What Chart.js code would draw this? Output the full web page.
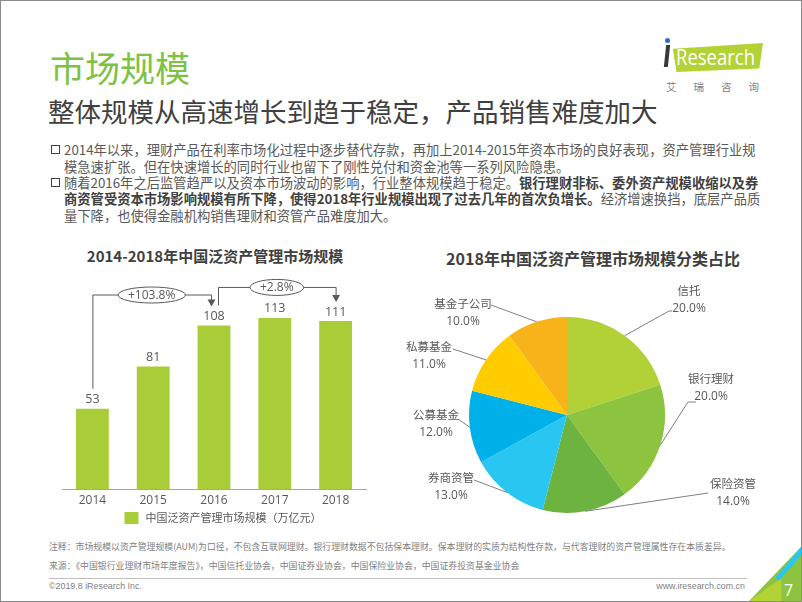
<!DOCTYPE html>
<html>
<head>
<meta charset="utf-8">
<script src="https://cdn.jsdelivr.net/npm/chart.js@4"></script>
<style>
  html, body { margin: 0; padding: 0; background: #fff; }
  #page {
    position: relative; width: 800px; height: 600px; border: 1px solid #8c8c8c;
    overflow: hidden; font-family: "Noto Sans CJK SC", sans-serif; color: #595959;
  }
  .abs { position: absolute; white-space: nowrap; }
  #title { left: 49px; top: 44px; font-size: 35px; color: #7dc243; line-height: 44px; }
  #subtitle { left: 47px; top: 93px; font-size: 26.5px; color: #404040; line-height: 34px; }
  .line { position: absolute; left: 63px; font-size: 13.3px; line-height: 17px; white-space: nowrap; }
  .bullet { position: absolute; left: 50px; width: 7px; height: 7px; border: 1.4px solid #404040; }
  b { color: #404040; }
  .ctitle { position: absolute; font-size: 15px; font-weight: bold; color: #404040; transform: translateX(-50%); white-space: nowrap; }
  .note { position: absolute; left: 48px; font-size: 8.9px; color: #7f7f7f; white-space: nowrap; }
  #logo { position: absolute; left: 669px; top: 42px; width: 93px; height: 29px; background: #b3d235;
    clip-path: polygon(3% 20%, 100% 0%, 96% 88%, 7% 100%); }
</style>
</head>
<body>
<div id="page">
  <div id="title" class="abs">市场规模</div>
  <div id="subtitle" class="abs">整体规模从高速增长到趋于稳定，产品销售难度加大</div>

  <div id="logo"></div>
  <div class="abs" style="left:664px;top:37px;width:5px;height:5px;border-radius:50%;background:#2f6fb7;"></div>
  <div class="abs" style="left:664px;top:44px;width:4px;height:22px;background:#3a3a3a;transform:skewX(-6deg);"></div>
  <div class="abs" style="left:675px;top:40px;font-family:'Open Sans',sans-serif;font-size:22px;color:#fff;line-height:30px;transform:scaleX(0.84);transform-origin:0 0;">Research</div>
  <div class="abs" style="left:665px;top:78px;font-size:10.5px;color:#7f7f7f;letter-spacing:17px;">艾瑞咨询</div>

  <div class="bullet" style="top:144px;"></div>
  <div class="line" style="top:140px;">2014年以来，理财产品在利率市场化过程中逐步替代存款，再加上2014-2015年资本市场的良好表现，资产管理行业规</div>
  <div class="line" style="top:157px;">模急速扩张。但在快速增长的同时行业也留下了刚性兑付和资金池等一系列风险隐患。</div>
  <div class="bullet" style="top:177px;"></div>
  <div class="line" style="top:173px;">随着2016年之后监管趋严以及资本市场波动的影响，行业整体规模趋于稳定。<b>银行理财非标、委外资产规模收缩以及券</b></div>
  <div class="line" style="top:189px;"><b>商资管受资本市场影响规模有所下降，使得2018年行业规模出现了过去几年的首次负增长。</b>经济增速换挡，底层产品质</div>
  <div class="line" style="top:206px;">量下降，也使得金融机构销售理财和资管产品难度加大。</div>

  <div class="ctitle" style="left:214px;top:244px;">2014-2018年中国泛资产管理市场规模</div>
  <div class="ctitle" style="left:592px;top:245px;font-size:16px;">2018年中国泛资产管理市场规模分类占比</div>

  <canvas id="barChart" width="340" height="268" style="position:absolute;left:40px;top:270px;"></canvas>
  <canvas id="pieChart" width="410" height="260" style="position:absolute;left:390px;top:270px;"></canvas>

  <div class="note" style="top:539px;">注释：市场规模以资产管理规模(AUM)为口径，不包含互联网理财。银行理财数据不包括保本理财。保本理财的实质为结构性存款，与代客理财的资产管理属性存在本质差异。</div>
  <div class="note" style="top:558px;">来源：《中国银行业理财市场年度报告》，中国信托业协会，中国证券业协会，中国保险业协会，中国证券投资基金业协会</div>
  <div class="abs" style="left:48px;top:577px;width:698px;height:1px;background:#bfbfbf;"></div>
  <div class="note" style="top:580px;font-family:'Liberation Sans',sans-serif;">©2019.8 iResearch Inc.</div>
  <div class="note" style="top:580px;left:auto;right:56px;font-family:'Liberation Sans',sans-serif;">www.iresearch.com.cn</div>

  <div class="abs" style="left:748px;top:540px;width:52px;height:60px;background:#8cc43f;clip-path:polygon(0% 100%, 100% 10%, 100% 100%);"></div>
  <div class="abs" style="left:748px;top:540px;width:52px;height:60px;background:#b3d235;clip-path:polygon(0% 100%, 62% 62%, 62% 100%);"></div>
  <div class="abs" style="left:748px;top:540px;width:52px;height:60px;background:#29c6f1;clip-path:polygon(50% 62%, 100% 10%, 100% 24%, 58% 66%);"></div>
  <div class="abs" style="left:783px;top:578px;font-family:'Open Sans',sans-serif;font-size:16px;color:#fff;">7</div>
</div>

<script>
// Bar chart data
let years = ['2014', '2015', '2016', '2017', '2018'];
let marketSize = [53, 81, 108, 113, 111];
let seriesName = '中国泛资产管理市场规模（万亿元）';
let growthLabels = ['+103.8%', '+2.8%'];
let growthFrom = [0, 2];
let growthTo = [2, 4];

// Pie chart data
let pieNames = ['信托', '银行理财', '保险资管', '券商资管', '公募基金', '私募基金', '基金子公司'];
let pieShares = [20.0, 20.0, 14.0, 13.0, 12.0, 11.0, 10.0];
let pieColors = ['#b1d136', '#8cc43f', '#6db33f', '#29c6f1', '#00b0e8', '#ffcc00', '#f8b21a'];

Chart.defaults.font.family = '"Open Sans", "Noto Sans CJK SC", sans-serif';
Chart.defaults.color = '#595959';

// value labels, growth brackets and the legend under the axis
let barExtras = {
  id: 'barExtras',
  afterDatasetsDraw(chart) {
    let ctx = chart.ctx;
    let x = chart.scales.x;
    let y = chart.scales.y;
    let area = chart.chartArea;
    ctx.save();
    ctx.fillStyle = '#595959';
    ctx.font = '12.5px "Open Sans", sans-serif';
    ctx.textAlign = 'center';
    ctx.textBaseline = 'middle';
    for (let i = 0; i < marketSize.length; i++) {
      ctx.fillText(marketSize[i], x.getPixelForValue(i), y.getPixelForValue(marketSize[i]) - 9);
    }
    let startDx = [0, 4];
    let endDx = [-3, 0];
    for (let k = 0; k < growthLabels.length; k++) {
      let a = growthFrom[k];
      let b = growthTo[k];
      let top = Math.max(...marketSize.slice(a, b + 1));
      let yLine = y.getPixelForValue(top) - 31;
      let x1 = x.getPixelForValue(a) + startDx[k];
      let x2 = x.getPixelForValue(b) + endDx[k];
      let y1 = y.getPixelForValue(marketSize[a]) - 20;
      let y2 = y.getPixelForValue(marketSize[b]) - 19;
      ctx.strokeStyle = '#595959';
      ctx.lineWidth = 1;
      ctx.beginPath();
      ctx.moveTo(x1 + 0.5, y1);
      ctx.lineTo(x1 + 0.5, yLine + 0.5);
      ctx.lineTo(x2 + 0.5, yLine + 0.5);
      ctx.lineTo(x2 + 0.5, y2 - 6);
      ctx.stroke();
      ctx.fillStyle = '#595959';
      ctx.beginPath();
      ctx.moveTo(x2 - 3.5, y2 - 7);
      ctx.lineTo(x2 + 4.5, y2 - 7);
      ctx.lineTo(x2 + 0.5, y2);
      ctx.closePath();
      ctx.fill();
      ctx.font = '12px "Open Sans", sans-serif';
      let w = ctx.measureText(growthLabels[k]).width;
      let cx = (x1 + x2) / 2;
      ctx.beginPath();
      ctx.ellipse(cx, yLine + 0.5, w / 2 + 10, 8, 0, 0, Math.PI * 2);
      ctx.fillStyle = '#fff';
      ctx.fill();
      ctx.stroke();
      ctx.fillStyle = '#595959';
      ctx.fillText(growthLabels[k], cx, yLine + 1);
    }
    // legend
    let ds = chart.data.datasets[0];
    ctx.font = '11px "Noto Sans CJK SC", sans-serif';
    let tw = ctx.measureText(ds.label).width;
    let ly = area.bottom + 29;
    let lx = (area.left + area.right) / 2 + 9 - (tw + 21) / 2;
    ctx.fillStyle = ds.backgroundColor;
    ctx.fillRect(lx, ly - 6, 14, 12);
    ctx.fillStyle = '#595959';
    ctx.textAlign = 'left';
    ctx.fillText(ds.label, lx + 21, ly);
    ctx.restore();
  }
};

new Chart(document.getElementById('barChart'), {
  type: 'bar',
  data: {
    labels: years,
    datasets: [{
      label: seriesName,
      data: marketSize,
      backgroundColor: '#a8cd38',
      barPercentage: 0.54,
      categoryPercentage: 1
    }]
  },
  options: {
    responsive: false,
    animation: false,
    devicePixelRatio: 1,
    layout: { padding: { left: 21, right: 15, top: 0, bottom: 30 } },
    scales: {
      x: {
        grid: { display: false, drawTicks: false },
        border: { color: '#a6a6a6' },
        ticks: { padding: 4, font: { size: 12 }, color: '#595959' },
        afterFit(axis) { axis.height = 20; }
      },
      y: { display: false, min: 0, max: 144 }
    },
    plugins: {
      legend: { display: false },
      tooltip: { enabled: false }
    }
  },
  plugins: [barExtras]
});

// leader lines and labels for the pie
let pieLabels = {
  id: 'pieLabels',
  afterDatasetsDraw(chart) {
    let ctx = chart.ctx;
    let arcs = chart.getDatasetMeta(0).data;
    // label centre (name line) and leader bend points, relative to pie centre
    let spots = [
      { n: [122, -124], pts: [[102, -104], [105, -104]] },
      { n: [144, -36], pts: [[121, -13], [129, -13]] },
      { n: [166, 69], pts: [[141, 78]] },
      { n: [-116, 63], pts: [[-93, 65]] },
      { n: [-131, 0], pts: [[-109, 4]] },
      { n: [-138, -68], pts: [[-114, -66]] },
      { n: [-104, -111], pts: [[-76, -110]] }
    ];
    ctx.save();
    for (let i = 0; i < arcs.length; i++) {
      let p = arcs[i].getProps(['x', 'y', 'startAngle', 'endAngle', 'outerRadius']);
      let mid = (p.startAngle + p.endAngle) / 2;
      let ex = p.x + Math.cos(mid) * p.outerRadius;
      let ey = p.y + Math.sin(mid) * p.outerRadius;
      let s = spots[i];
      ctx.strokeStyle = '#7f7f7f';
      ctx.lineWidth = 1;
      ctx.beginPath();
      ctx.moveTo(ex, ey);
      s.pts.forEach(q => ctx.lineTo(p.x + q[0], p.y + q[1]));
      ctx.stroke();
      ctx.fillStyle = '#595959';
      ctx.textAlign = 'center';
      ctx.textBaseline = 'middle';
      ctx.font = '11.5px "Noto Sans CJK SC", sans-serif';
      ctx.fillText(pieNames[i], p.x + s.n[0], p.y + s.n[1]);
      ctx.font = '12px "Open Sans", sans-serif';
      ctx.fillText(pieShares[i].toFixed(1) + '%', p.x + s.n[0], p.y + s.n[1] + 18);
    }
    ctx.restore();
  }
};

new Chart(document.getElementById('pieChart'), {
  type: 'pie',
  data: {
    labels: pieNames,
    datasets: [{
      data: pieShares,
      backgroundColor: pieColors,
      borderWidth: 0
    }]
  },
  options: {
    responsive: false,
    animation: false,
    devicePixelRatio: 1,
    layout: { padding: { left: 78, right: 136, top: 46, bottom: 18 } },
    plugins: {
      legend: { display: false },
      tooltip: { enabled: false }
    }
  },
  plugins: [pieLabels]
});
</script>
</body>
</html>
